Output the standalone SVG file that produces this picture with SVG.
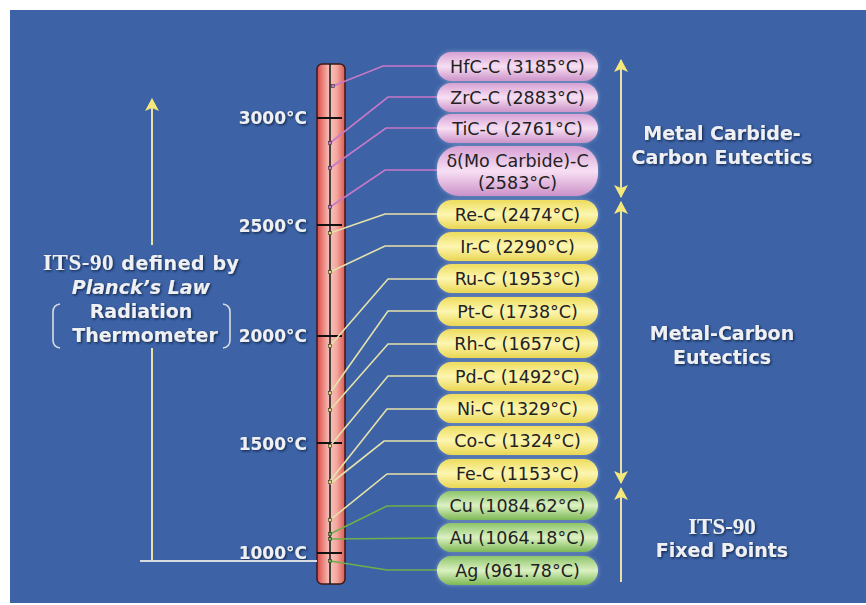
<svg xmlns="http://www.w3.org/2000/svg" width="866" height="605" viewBox="0 0 866 605">
<defs>
<linearGradient id="gPink" x1="0" y1="0" x2="0" y2="1">
<stop offset="0" stop-color="#d7a0d4"/><stop offset="0.5" stop-color="#f7dff3"/><stop offset="1" stop-color="#cc92c9"/>
</linearGradient>
<linearGradient id="gYel" x1="0" y1="0" x2="0" y2="1">
<stop offset="0" stop-color="#eddc5c"/><stop offset="0.5" stop-color="#fdf6b0"/><stop offset="1" stop-color="#e9d652"/>
</linearGradient>
<linearGradient id="gGrn" x1="0" y1="0" x2="0" y2="1">
<stop offset="0" stop-color="#8cc468"/><stop offset="0.5" stop-color="#dcf1c2"/><stop offset="1" stop-color="#7cb854"/>
</linearGradient>
<linearGradient id="gBar" x1="0" y1="0" x2="1" y2="0">
<stop offset="0" stop-color="#dc4a46"/><stop offset="0.45" stop-color="#f8c4bc"/><stop offset="0.7" stop-color="#f3a89f"/><stop offset="1" stop-color="#de5a54"/>
</linearGradient>
<filter id="shadow" x="-20%" y="-40%" width="140%" height="180%">
<feDropShadow dx="1.2" dy="1.2" stdDeviation="1" flood-color="#0c1c3c" flood-opacity="0.9"/>
</filter>
<filter id="glow" x="-10%" y="-40%" width="120%" height="180%">
<feDropShadow dx="0" dy="0" stdDeviation="2" flood-color="#ffffff" flood-opacity="0.35"/>
</filter>
<marker id="ah" viewBox="0 0 14 14" refX="13" refY="7" markerWidth="14" markerHeight="14" markerUnits="userSpaceOnUse" orient="auto-start-reverse">
<path d="M14,7 L1,0 L4,7 L1,14 Z" fill="#f5e77a"/>
</marker>
<style>
.pill{stroke:none;filter:url(#glow)}
.pt{font-family:"DejaVu Sans",Verdana,sans-serif;font-size:17.5px;fill:#222;text-anchor:middle}
.lbl{font-family:"DejaVu Sans",Verdana,sans-serif;font-weight:bold;font-size:17px;fill:#eef0f4;text-anchor:end;filter:url(#shadow)}
.big{font-family:"DejaVu Sans",Verdana,sans-serif;font-weight:bold;font-size:19px;fill:#eef0f4;text-anchor:middle;filter:url(#shadow)}
.serif{font-family:"Liberation Serif","Times New Roman",serif;font-weight:bold;font-size:23px}
.cp{fill:none;stroke:#c878c8;stroke-width:1.6}
.cy{fill:none;stroke:#e6e2aa;stroke-width:1.6}
.cg{fill:none;stroke:#6cb04c;stroke-width:1.6}
.arr{fill:none;stroke:#e9e2a6;stroke-width:2}
.dot{stroke:#333;stroke-width:0.6}
</style>
</defs>
<rect x="0" y="0" width="866" height="605" fill="#ffffff"/>
<rect x="10" y="10" width="856" height="593" fill="#3d63a6"/>

<g id="thermometer">
<rect x="317" y="64" width="28" height="520" rx="5" fill="url(#gBar)" stroke="#3a1a1a" stroke-width="1.5"/>
<line x1="330" y1="64" x2="330" y2="584" stroke="#111" stroke-width="1.5"/>
<g stroke="#111" stroke-width="2">
<line x1="317" y1="118" x2="342" y2="118"/>
<line x1="317" y1="225" x2="342" y2="225"/>
<line x1="317" y1="336" x2="342" y2="336"/>
<line x1="317" y1="443" x2="342" y2="443"/>
<line x1="317" y1="553" x2="342" y2="553"/>
</g>
</g>

<g id="scale-labels">
<text class="lbl" x="307" y="124">3000°C</text>
<text class="lbl" x="307" y="232">2500°C</text>
<text class="lbl" x="307" y="342">2000°C</text>
<text class="lbl" x="307" y="450">1500°C</text>
<text class="lbl" x="307" y="559">1000°C</text>
</g>

<g id="connectors">
<polyline class="cp" points="437,66 383,66 333,86"/>
<polyline class="cp" points="437,97 388,97 330,143"/>
<polyline class="cp" points="437,128 386,128 330,168"/>
<polyline class="cp" points="437,170 385,170 330,207"/>
<polyline class="cy" points="437,214 385,214 330,233"/>
<polyline class="cy" points="437,246 385,246 330,272"/>
<polyline class="cy" points="437,279 388,279 330,346"/>
<polyline class="cy" points="437,311 388,311 330,393"/>
<polyline class="cy" points="437,344 388,344 330,410"/>
<polyline class="cy" points="437,376 388,376 330,446"/>
<polyline class="cy" points="437,409 387,409 330,481"/>
<polyline class="cy" points="437,441 384,441 330,484"/>
<polyline class="cy" points="437,474 387,474 330,520"/>
<polyline class="cg" points="437,506 387,506 330,534"/>
<polyline class="cg" points="437,538 330,539"/>
<polyline class="cg" points="437,570 387,570 330,561"/>
<g class="dot">
<rect x="331.5" y="84.5" width="3" height="3" fill="#c878c8"/>
<rect x="328.5" y="141.5" width="3" height="3" fill="#c878c8"/>
<rect x="328.5" y="166.5" width="3" height="3" fill="#c878c8"/>
<rect x="328.5" y="205.5" width="3" height="3" fill="#c878c8"/>
<rect x="328.5" y="231.5" width="3" height="3" fill="#e8dc70"/>
<rect x="328.5" y="270.5" width="3" height="3" fill="#e8dc70"/>
<rect x="328.5" y="344.5" width="3" height="3" fill="#e8dc70"/>
<rect x="328.5" y="391.5" width="3" height="3" fill="#e8dc70"/>
<rect x="328.5" y="408.5" width="3" height="3" fill="#e8dc70"/>
<rect x="328.5" y="444.5" width="3" height="3" fill="#e8dc70"/>
<rect x="328.5" y="480.5" width="3" height="3" fill="#e8dc70"/>
<rect x="328.5" y="518.5" width="3" height="3" fill="#e8dc70"/>
<rect x="328.5" y="532.5" width="3" height="3" fill="#6cb04c"/>
<rect x="328.5" y="537.5" width="3" height="3" fill="#6cb04c"/>
<rect x="328.5" y="559.5" width="3" height="3" fill="#6cb04c"/>
</g>
</g>

<g id="hfc"><rect class="pill" x="437" y="52" width="161" height="29" rx="14.5" fill="url(#gPink)"/><text class="pt" x="517.5" y="73">HfC-C (3185°C)</text></g>
<g id="zrc"><rect class="pill" x="437" y="83" width="161" height="29" rx="14.5" fill="url(#gPink)"/><text class="pt" x="517.5" y="104">ZrC-C (2883°C)</text></g>
<g id="tic"><rect class="pill" x="437" y="114" width="161" height="29" rx="14.5" fill="url(#gPink)"/><text class="pt" x="517.5" y="135">TiC-C (2761°C)</text></g>
<g id="moc"><rect class="pill" x="437" y="146" width="161" height="50" rx="22" fill="url(#gPink)"/><text class="pt" x="517.5" y="167">δ(Mo Carbide)-C</text><text class="pt" x="517.5" y="189">(2583°C)</text></g>
<g id="rec"><rect class="pill" x="437" y="200" width="161" height="29" rx="14.5" fill="url(#gYel)"/><text class="pt" x="517.5" y="221">Re-C (2474°C)</text></g>
<g id="irc"><rect class="pill" x="437" y="232" width="161" height="29" rx="14.5" fill="url(#gYel)"/><text class="pt" x="517.5" y="253">Ir-C (2290°C)</text></g>
<g id="ruc"><rect class="pill" x="437" y="264" width="161" height="29" rx="14.5" fill="url(#gYel)"/><text class="pt" x="517.5" y="285">Ru-C (1953°C)</text></g>
<g id="ptc"><rect class="pill" x="437" y="297" width="161" height="29" rx="14.5" fill="url(#gYel)"/><text class="pt" x="517.5" y="318">Pt-C (1738°C)</text></g>
<g id="rhc"><rect class="pill" x="437" y="329" width="161" height="29" rx="14.5" fill="url(#gYel)"/><text class="pt" x="517.5" y="350">Rh-C (1657°C)</text></g>
<g id="pdc"><rect class="pill" x="437" y="362" width="161" height="29" rx="14.5" fill="url(#gYel)"/><text class="pt" x="517.5" y="383">Pd-C (1492°C)</text></g>
<g id="nic"><rect class="pill" x="437" y="394" width="161" height="29" rx="14.5" fill="url(#gYel)"/><text class="pt" x="517.5" y="415">Ni-C (1329°C)</text></g>
<g id="coc"><rect class="pill" x="437" y="426" width="161" height="29" rx="14.5" fill="url(#gYel)"/><text class="pt" x="517.5" y="447">Co-C (1324°C)</text></g>
<g id="fec"><rect class="pill" x="437" y="459" width="161" height="29" rx="14.5" fill="url(#gYel)"/><text class="pt" x="517.5" y="480">Fe-C (1153°C)</text></g>
<g id="cu"><rect class="pill" x="437" y="491" width="161" height="29" rx="14.5" fill="url(#gGrn)"/><text class="pt" x="517.5" y="512">Cu (1084.62°C)</text></g>
<g id="au"><rect class="pill" x="437" y="523" width="161" height="29" rx="14.5" fill="url(#gGrn)"/><text class="pt" x="517.5" y="544">Au (1064.18°C)</text></g>
<g id="ag"><rect class="pill" x="437" y="556" width="161" height="29" rx="14.5" fill="url(#gGrn)"/><text class="pt" x="517.5" y="577">Ag (961.78°C)</text></g>

<g id="range-arrows">
<line class="arr" x1="621" y1="60" x2="621" y2="197" marker-start="url(#ah)" marker-end="url(#ah)"/>
<line class="arr" x1="621" y1="202" x2="621" y2="483" marker-start="url(#ah)" marker-end="url(#ah)"/>
<line class="arr" x1="621" y1="488" x2="621" y2="582" marker-start="url(#ah)"/>
</g>

<g id="range-labels">
<text class="big" x="722" y="140">Metal Carbide-</text>
<text class="big" x="722" y="164">Carbon Eutectics</text>
<text class="big" x="722" y="340">Metal-Carbon</text>
<text class="big" x="722" y="364">Eutectics</text>
<text class="big" x="722" y="534"><tspan class="serif">ITS-90</tspan></text>
<text class="big" x="722" y="557">Fixed Points</text>
</g>

<g id="radiation">
<line class="arr" x1="152" y1="561" x2="152" y2="348"/>
<line class="arr" x1="152" y1="245" x2="152" y2="99" marker-end="url(#ah)"/>
<line x1="140" y1="561" x2="317" y2="561" stroke="#d8dce0" stroke-width="2"/>
<text class="big" x="141" y="270" textLength="196" lengthAdjust="spacing"><tspan class="serif">ITS-90</tspan> defined by</text>
<text class="big" x="141" y="294" font-style="italic" style="font-weight:600">Planck’s Law</text>
<text class="big" x="141" y="318">Radiation</text>
<text class="big" x="145" y="342">Thermometer</text>
<path d="M60,304 Q53,305 53,312 L53,340 Q53,347 60,348" fill="none" stroke="#d8dce0" stroke-width="1.6"/>
<path d="M223,304 Q230,305 230,312 L230,340 Q230,347 223,348" fill="none" stroke="#d8dce0" stroke-width="1.6"/>
</g>
</svg>
